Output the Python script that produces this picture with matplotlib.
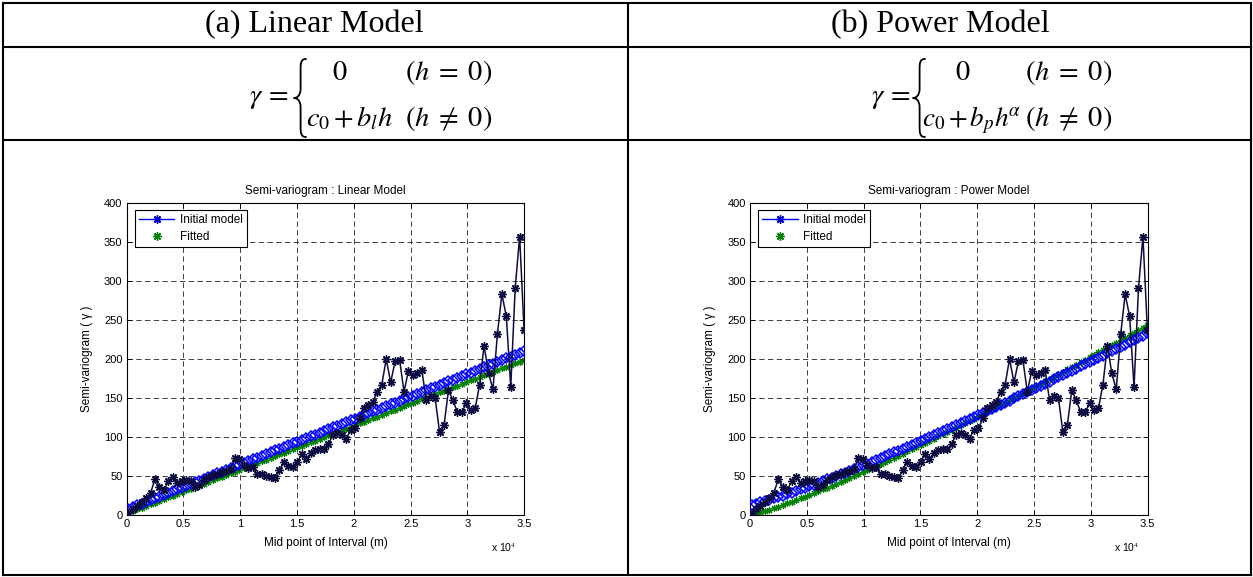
import numpy as np
import matplotlib
matplotlib.use("Agg")
import matplotlib.pyplot as plt
from matplotlib.lines import Line2D
from matplotlib.path import Path
from matplotlib.patches import PathPatch

plt.rcParams["mathtext.fontset"] = "stix"
plt.rcParams["font.family"] = ["Liberation Sans", "DejaVu Sans"]

W, H = 1253, 577

# ---- data -------------------------------------------------------------
# lag centres of the experimental semi-variogram (m)
lag_first, lag_last, n_lags = 140.0, 34990.0, 90

# experimental semi-variogram values, one per lag
gamma_exp = [
    3, 8, 12, 17, 22, 28, 46, 36, 32, 43,
    49, 41, 43, 45, 43, 36, 38, 45, 49, 51,
    53, 55, 57, 59, 73, 72, 64, 60, 61, 52,
    53, 50, 49, 47, 58, 68, 63, 62, 68, 78,
    72, 79, 83, 85, 84, 91, 103, 105, 103, 98,
    109, 111, 124, 137, 141, 145, 158, 167, 200, 170,
    197, 199, 158, 185, 179, 182, 186, 147, 152, 150,
    106, 115, 160, 147, 132, 132, 143, 135, 137, 167,
    217, 182, 161, 232, 283, 255, 164, 291, 357, 237,
]

# model parameters: gamma = c0 + b * h**alpha
linear_initial = {"c0": 7.0, "b": 5.80e-3, "alpha": 1.0}
linear_fitted = {"c0": 2.0, "b": 5.63e-3, "alpha": 1.0}
power_initial = {"c0": 13.0, "b": 1.106e-3, "alpha": 1.166}
power_fitted = {"c0": 0.0, "b": 1.0575e-3, "alpha": 1.18}

x_ticks = [0, 5000, 10000, 15000, 20000, 25000, 30000, 35000]
x_tick_labels = ["0", "0.5", "1", "1.5", "2", "2.5", "3", "3.5"]
y_ticks = [0, 50, 100, 150, 200, 250, 300, 350, 400]

headers = ["(a) Linear Model", "(b) Power Model"]
plot_titles = ["Semi-variogram : Linear Model", "Semi-variogram : Power Model"]
legend_labels = ["Initial model", "Fitted"]

# ---- helpers ------------------------------------------------------------
fig = plt.figure(figsize=(W / 100, H / 100), dpi=100)


def fx(x):
    return x / W


def fy(y):
    return 1 - y / H


def hline(y, x0, x1, lw=1.5):
    fig.add_artist(Line2D([fx(x0), fx(x1)], [fy(y), fy(y)], color="black",
                          lw=lw, transform=fig.transFigure, solid_capstyle="projecting"))


def vline(x, y0, y1, lw=1.5):
    fig.add_artist(Line2D([fx(x), fx(x)], [fy(y0), fy(y1)], color="black",
                          lw=lw, transform=fig.transFigure, solid_capstyle="projecting"))


def brace(x, y0, y1, w):
    """Left curly brace drawn in pixel units (y grows downwards)."""
    h = y1 - y0
    ym = (y0 + y1) / 2
    cx = x + w * 0.55
    pts = [
        (x + w, y0),
        (cx, y0), (cx, y0 + 0.06 * h), (cx, y0 + 0.14 * h),
        (cx, ym - 0.12 * h),
        (cx, ym - 0.03 * h), (x + 0.25 * w, ym), (x, ym),
        (x + 0.25 * w, ym), (cx, ym + 0.03 * h), (cx, ym + 0.12 * h),
        (cx, y1 - 0.14 * h),
        (cx, y1 - 0.06 * h), (cx, y1), (x + w, y1),
    ]
    codes = [Path.MOVETO,
             Path.CURVE4, Path.CURVE4, Path.CURVE4,
             Path.LINETO,
             Path.CURVE4, Path.CURVE4, Path.CURVE4,
             Path.CURVE4, Path.CURVE4, Path.CURVE4,
             Path.LINETO,
             Path.CURVE4, Path.CURVE4, Path.CURVE4]
    verts = [(fx(px), fy(py)) for px, py in pts]
    fig.add_artist(PathPatch(Path(verts, codes), fill=False, lw=1.3,
                             edgecolor="black", transform=fig.transFigure,
                             capstyle="round", joinstyle="round"))


def model(params, h):
    return params["c0"] + params["b"] * np.power(h, params["alpha"])


# ---- table frame ----------------------------------------------------------
for y in (2.5, 47, 140, 575):
    hline(y, 2.5, 1250.5)
for x in (2.5, 628, 1250.5):
    vline(x, 2.5, 575)

# ---- headers ------------------------------------------------------------------
serif = ["Liberation Serif", "DejaVu Serif"]
fig.text(fx(314), fy(25), headers[0], ha="center", va="center",
         fontsize=23, family=serif)
fig.text(fx(940), fy(25), headers[1], ha="center", va="center",
         fontsize=23, family=serif)

# ---- formulas -------------------------------------------------------------------
FS = 20.5
def formula(x_gamma, x_brace, x_zero, x_cond, x_row2, row2, fs2):
    fig.text(fx(x_gamma), fy(103), r"$\gamma\,=$", ha="left", va="baseline", fontsize=FS)
    brace(x_brace, 59, 137, 12)
    fig.text(fx(x_zero), fy(80), r"$0$", ha="center", va="baseline", fontsize=FS)
    fig.text(fx(x_cond), fy(80), r"$(h\;=\;0)$", ha="left", va="baseline", fontsize=FS)
    fig.text(fx(x_row2), fy(126), row2, ha="left", va="baseline", fontsize=fs2)
    fig.text(fx(x_cond), fy(126), r"$(h\;\neq\;0)$", ha="left", va="baseline", fontsize=FS)


formula(249, 294, 340, 405, 306, r"$c_0\,{+}\,b_l h$", FS)
formula(871, 913, 963, 1025, 922, r"$c_0\,{+}\,b_p h^{\!\alpha}$", 19.5)

# ---- semi-variogram plots ------------------------------------------------------
lags = np.linspace(lag_first, lag_last, n_lags)
exp_vals = np.array(gamma_exp, dtype=float)
asterisk = (8, 2, 0)
navy = "#0c0c40"

panels = [
    (126.7, linear_initial, linear_fitted, plot_titles[0]),
    (750.0, power_initial, power_fitted, plot_titles[1]),
]

for left_px, p_init, p_fit, title in panels:
    ax = fig.add_axes([fx(left_px), fy(515), 397.5 / W, 312 / H])
    ax.plot(lags, model(p_fit, lags), linestyle="none", marker=asterisk,
            ms=5, mew=0.8, color="#008000", zorder=2)
    ax.plot(lags, model(p_init, lags), linestyle="none", marker="D",
            ms=5.0, mew=1.1, mfc="none", mec="#0000ff", zorder=3)
    ax.plot(lags, exp_vals, color=navy, lw=1.1, marker=asterisk, ms=6,
            mew=1.0, mec=navy, zorder=4)

    ax.set_xlim(0, 35000)
    ax.set_ylim(0, 400)
    ax.set_xticks(x_ticks)
    ax.set_xticklabels(x_tick_labels)
    ax.set_yticks(y_ticks)
    ax.tick_params(direction="in", length=3.5, width=0.6, labelsize=8,
                   top=True, right=True, pad=3)
    for s in ax.spines.values():
        s.set_linewidth(0.8)
    ax.set_axisbelow(True)
    ax.grid(True, linestyle=(0, (5.5, 3.5)), color="#404040", linewidth=0.7)

    cx = left_px + 199
    fig.text(fx(cx), fy(191), title, ha="center", va="center", fontsize=8.5)
    fig.text(fx(cx), fy(543), "Mid point of Interval (m)", ha="center",
             va="center", fontsize=8.5)
    fig.text(fx(left_px - 40), fy(359), "Semi-variogram ( \u03b3 )", ha="center",
             va="center", rotation=90, fontsize=8.5)
    fig.text(fx(left_px + 364), fy(548), r"x 10$^{4}$", ha="left",
             va="center", fontsize=7.5)

    handles = [
        Line2D([], [], color="#0000ff", lw=1.0, marker=asterisk, ms=6,
               mew=1.0, mec="#0000cc"),
        Line2D([], [], color="#008000", lw=0, marker=asterisk, ms=6, mew=1.0),
    ]
    leg = ax.legend(handles, legend_labels, loc="upper left",
                    bbox_to_anchor=(8 / 397.5, 1 - 6.5 / 312), borderaxespad=0,
                    fontsize=8.5, handlelength=3.0, handletextpad=0.45,
                    labelspacing=0.45, borderpad=0.35, fancybox=False,
                    framealpha=1, edgecolor="black")
    leg.get_frame().set_linewidth(0.8)

fig.savefig("out.png", dpi=100)
